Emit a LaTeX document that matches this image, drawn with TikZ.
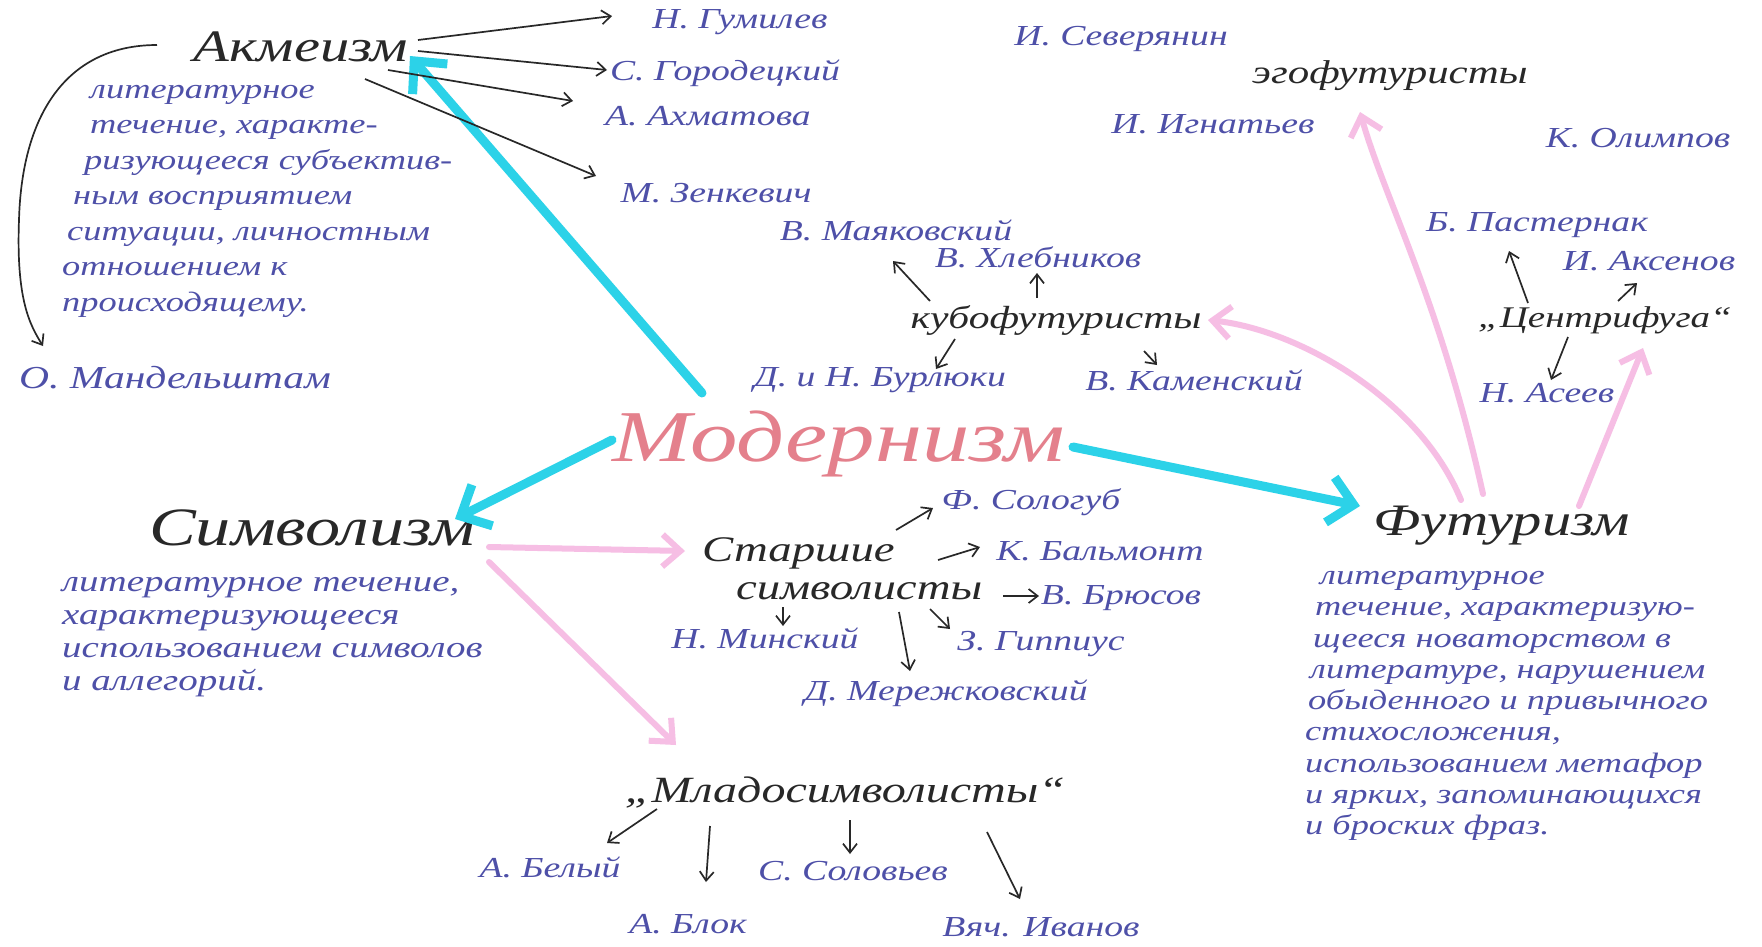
\documentclass[tikz,border=0pt]{standalone}
\usepackage{fontspec}
\setmainfont{Liberation Serif}[FakeStretch=1.3]
\usetikzlibrary{arrows.meta}
\definecolor{ink}{RGB}{40,40,40}
\definecolor{blueink}{RGB}{78,80,168}
\definecolor{modred}{RGB}{228,128,140}
\definecolor{cyanc}{RGB}{44,210,232}
\definecolor{pinkc}{RGB}{246,190,228}
\begin{document}
\begin{tikzpicture}[x=1pt,y=-1pt,
  every node/.style={inner sep=0pt},
  head/.style={text=ink, font=\fontsize{45}{50}\selectfont\itshape},
  subhead/.style={text=ink, font=\fontsize{33}{38}\selectfont\itshape},
  namelbl/.style={text=blueink, font=\fontsize{29}{32}\selectfont\itshape},
  defn/.style={text=blueink, align=left, anchor=north west},
  modlbl/.style={text=modred, font=\fontsize{73}{80}\selectfont\itshape},
  arr/.style={draw=ink, line width=1.7pt, -{Straight Barb[length=9pt,width=14pt]}},
  cyanarr/.style={draw=cyanc, line width=9pt, line cap=round, -{Straight Barb[length=24pt,width=46pt]}},
  pinkarr/.style={draw=pinkc, line width=6pt, line cap=round, -{Straight Barb[length=18pt,width=32pt]}}
]
\useasboundingbox[fill=white] (0,0) rectangle (1762,946);

% main headings
\node[modlbl] (mod) at (839,444) {Модернизм};
\node[head] (ak) at (301,47) {Акмеизм};
\node[head, font=\fontsize{54}{58}\selectfont\itshape] (sym) at (312,528) {Символизм};
\node[head] (fut) at (1502,526) {Футуризм};

% definitions
\node[defn, font=\fontsize{28}{35.5}\selectfont\itshape] (akdef) at (62,85)
  {\hspace*{28pt}литературное\\
   \hspace*{28pt}течение, характе-\\
   \hspace*{22pt}ризующееся субъектив-\\
   \hspace*{11pt}ным восприятием\\
   \hspace*{5pt}ситуации, личностным\\
   отношением к\\
   происходящему.};
\node[defn, font=\fontsize{30}{33}\selectfont\itshape] (symdef) at (62,577)
  {литературное течение,\\
   характеризующееся\\
   использованием символов\\
   и аллегорий.};
\node[defn, font=\fontsize{28}{31.3}\selectfont\itshape] (futdef) at (1305,571)
  {\hspace*{15pt}литературное\\
   \hspace*{10pt}течение, характеризую-\\
   \hspace*{8pt}щееся новаторством в\\
   \hspace*{5pt}литературе, нарушением\\
   \hspace*{3pt}обыденного и привычного\\
   стихосложения,\\
   использованием метафор\\
   и ярких, запоминающихся\\
   и броских фраз.};

% sub groups
\node[subhead, font=\fontsize{32}{36}\selectfont\itshape] (kubo) at (1056,320) {кубофутуристы};
\node[subhead] (ego) at (1390,76) {эгофутуристы};
\node[subhead, font=\fontsize{30}{34}\selectfont\itshape] (cent) at (1605,320) {„Центрифуга“};
\node[subhead, align=left, anchor=north west, font=\fontsize{36}{38}\selectfont\itshape] (star) at (702,537)
  {Старшие\\\hspace*{34pt}символисты};
\node[subhead, font=\fontsize{37}{40}\selectfont\itshape] (mlad) at (845,792) {„Младосимволисты“};

% names
\node[namelbl] (gum) at (740,22) {Н. Гумилев};
\node[namelbl] (gor) at (725,73) {С. Городецкий};
\node[namelbl] (akh) at (708,116) {А. Ахматова};
\node[namelbl] (zen) at (716,193) {М. Зенкевич};
\node[namelbl, font=\fontsize{32}{35}\selectfont\itshape] (mand) at (175,378) {О. Мандельштам};
\node[namelbl] (sev) at (1121,39) {И. Северянин};
\node[namelbl] (ign) at (1213,124) {И. Игнатьев};
\node[namelbl] (olim) at (1638,138) {К. Олимпов};
\node[namelbl] (past) at (1537,225) {Б. Пастернак};
\node[namelbl] (aks) at (1649,261) {И. Аксенов};
\node[namelbl] (ase) at (1547,393) {Н. Асеев};
\node[namelbl] (mayak) at (896,230) {В. Маяковский};
\node[namelbl] (khleb) at (1038,257) {В. Хлебников};
\node[namelbl] (burl) at (880,380) {Д. и Н. Бурлюки};
\node[namelbl] (kam) at (1194,380) {В. Каменский};
\node[namelbl] (solo) at (1031,502) {Ф. Сологуб};
\node[namelbl] (balm) at (1100,551) {К. Бальмонт};
\node[namelbl] (bryu) at (1121,598) {В. Брюсов};
\node[namelbl] (gipp) at (1041,644) {З. Гиппиус};
\node[namelbl] (mins) at (765,638) {Н. Минский};
\node[namelbl] (merezh) at (946,693) {Д. Мережковский};
\node[namelbl] (bel) at (550,867) {А. Белый};
\node[namelbl] (blok) at (688,924) {А. Блок};
\node[namelbl] (solov) at (853,871) {С. Соловьев};
\node[namelbl] (ivan) at (1041,927) {Вяч. Иванов};

% cyan arrows
\draw[cyanarr] ([shift={(-137,-51)}]mod.center) -- ([shift={(109,9)}]ak.center);
\draw[cyanarr] ([shift={(-227,-4)}]mod.center) -- ([shift={(143,-9)}]sym.center);
\draw[cyanarr] ([shift={(234,3)}]mod.center) -- ([shift={(-142,-20)}]fut.center);

% pink arrows
\draw[pinkarr] ([shift={(177,19)}]sym.center) -- ([shift={(-17,14)}]star.north west);
\draw[pinkarr] ([shift={(177,34)}]sym.center) -- ([shift={(-169,-47)}]mlad.center);
\draw[pinkarr] ([shift={(-19,-32)}]fut.center) .. controls (1440,300) and (1385,200) .. ([shift={(-30,36)}]ego.center);
\draw[pinkarr] ([shift={(-41,-26)}]fut.center) .. controls (1420,400) and (1300,330) .. ([shift={(152,0)}]kubo.center);
\draw[pinkarr] ([shift={(77,-20)}]fut.center) -- ([shift={(38,28)}]cent.center);

% akmeism arrows
\draw[arr] ([shift={(117,-7)}]ak.center) -- ([shift={(-128,-6)}]gum.center);
\draw[arr] ([shift={(117,4)}]ak.center) -- ([shift={(-118,-3)}]gor.center);
\draw[arr] ([shift={(87,23)}]ak.center) -- ([shift={(-135,-15)}]akh.center);
\draw[arr] ([shift={(64,32)}]ak.center) -- ([shift={(-120,-17)}]zen.center);
\draw[arr] ([shift={(-144,-2)}]ak.center) .. controls (70,45) and (22,110) .. (19,220)
  .. controls (16,300) and (30,325) .. ([shift={(-132,-32)}]mand.center);

% kubofuturists
\draw[arr] ([shift={(-126,-19)}]kubo.center) -- ([shift={(-3,31)}]mayak.center);
\draw[arr] ([shift={(-19,-22)}]kubo.center) -- ([shift={(-1,16)}]khleb.center);
\draw[arr] ([shift={(-101,19)}]kubo.center) -- ([shift={(56,-11)}]burl.center);
\draw[arr] ([shift={(88,31)}]kubo.center) -- ([shift={(-37,-15)}]kam.center);

% centrifuga
\draw[arr] ([shift={(-77,-17)}]cent.center) -- ([shift={(-28,26)}]past.center);
\draw[arr] ([shift={(13,-19)}]cent.center) -- ([shift={(-12,22)}]aks.center);
\draw[arr] ([shift={(-37,17)}]cent.center) -- ([shift={(4,-13)}]ase.center);

% older symbolists
\draw[arr] ([shift={(194,-7)}]star.north west) -- ([shift={(-98,6)}]solo.center);
\draw[arr] ([shift={(236,23)}]star.north west) -- ([shift={(-120,-4)}]balm.center);
\draw[arr] ([shift={(301,59)}]star.north west) -- ([shift={(-82,-2)}]bryu.center);
\draw[arr] ([shift={(228,72)}]star.north west) -- ([shift={(-91,-15)}]gipp.center);
\draw[arr] ([shift={(81,70)}]star.north west) -- ([shift={(18,-12)}]mins.center);
\draw[arr] ([shift={(197,75)}]star.north west) -- ([shift={(-36,-22)}]merezh.center);

% young symbolists
\draw[arr] ([shift={(-188,17)}]mlad.center) -- ([shift={(57,-24)}]bel.center);
\draw[arr] ([shift={(-135,34)}]mlad.center) -- ([shift={(18,-42)}]blok.center);
\draw[arr] ([shift={(5,28)}]mlad.center) -- ([shift={(-3,-17)}]solov.center);
\draw[arr] ([shift={(142,40)}]mlad.center) -- ([shift={(-21,-28)}]ivan.center);
\end{tikzpicture}
\end{document}
